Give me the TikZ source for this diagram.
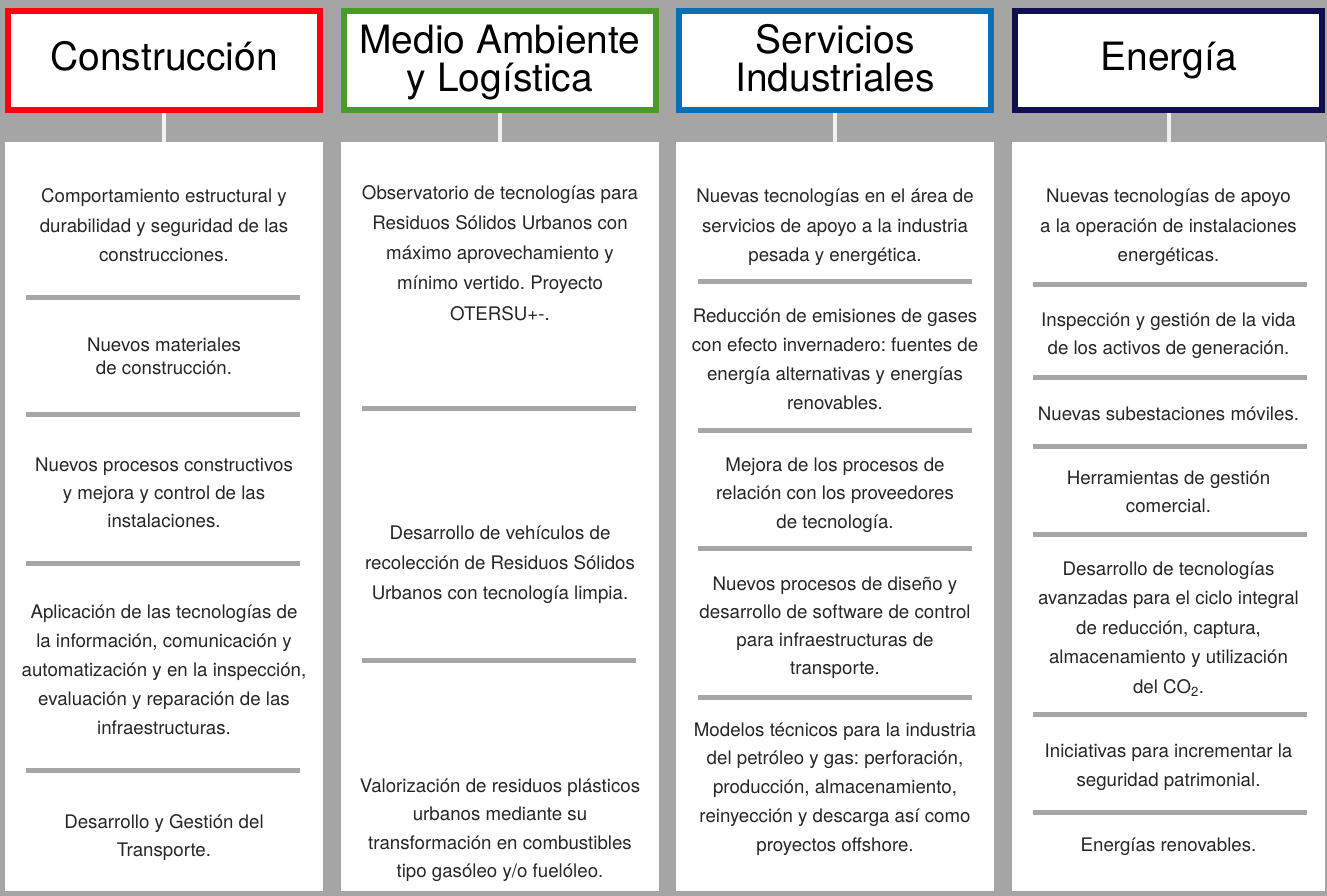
\documentclass[tikz,border=0pt]{standalone}
\usepackage{fontspec}
\setmainfont{TeX Gyre Heros}
\frenchspacing
\definecolor{bggray}{HTML}{A5A5A5}
\definecolor{sepgray}{HTML}{A6A6A6}
\definecolor{cred}{HTML}{FF0012}
\definecolor{cgreen}{HTML}{4C9A2A}
\definecolor{cblue}{HTML}{0A6FB5}
\definecolor{cnavy}{HTML}{120E52}
\newcommand\ml[1]{\vtop{\halign{\hfil##\hfil\cr#1\crcr}}}
\newcommand\bodyfont[1]{\fontsize{18.7}{#1}\selectfont}
\newcommand\sepat[2]{\draw[sepline] ({#1-137},#2) -- ({#1+137},#2);}
\tikzset{
  hdr/.style={draw, line width=6pt, fill=white, minimum width=#1, minimum height=99pt, inner sep=0pt, outer sep=0pt},
  colbox/.style={fill=white, minimum width=#1, minimum height=749pt, inner sep=0pt, outer sep=0pt},
  htxt/.style={font=\fontsize{39}{38}\selectfont, text=black, inner sep=0pt, anchor=base},
  txt/.style={font=\bodyfont{#1}, text=black!85, inner sep=0pt, anchor=base},
  txt/.default=29.3,
  conn/.style={draw=white!94!black, line width=4pt, shorten <=3pt},
  sepline/.style={draw=sepgray, line width=5pt}
}
\begin{document}
\begin{tikzpicture}[x=1pt,y=-1pt]
\useasboundingbox (0,0) rectangle (1327,896);
\fill[bggray] (0,0) rectangle (1327,896);
% columns
\node[colbox=318pt] (c1) at (164,516.5) {};
\node[colbox=318pt] (c2) at (500,516.5) {};
\node[colbox=318pt] (c3) at (835,516.5) {};
\node[colbox=313pt] (c4) at (1168.5,516.5) {};
% headers
\node[hdr=312pt, draw=cred] (h1) at (164,60.5) {};
\node[hdr=312pt, draw=cgreen] (h2) at (500,60.5) {};
\node[hdr=312pt, draw=cblue] (h3) at (835,60.5) {};
\node[hdr=307pt, draw=cnavy] (h4) at (1168.5,60.5) {};
\draw[conn] (h1.south) -- (c1.north);
\draw[conn] (h2.south) -- (c2.north);
\draw[conn] (h3.south) -- (c3.north);
\draw[conn] (h4.south) -- (c4.north);
\node[htxt] (t1) at (164,71) {Construcción};
\node[htxt] (t2) at (500,53.5) {\ml{Medio Ambiente\cr y Logística}};
\node[htxt] (t3) at (835,53.5) {\ml{Servicios\cr Industriales}};
\node[htxt] (t4) at (1168.5,71) {Energía};
% separators
\sepat{163}{297.5}\sepat{163}{414.5}\sepat{163}{563}\sepat{163}{770}
\sepat{499}{408}\sepat{499}{660}
\sepat{835}{281}\sepat{835}{430}\sepat{835}{548}\sepat{835}{697}
\sepat{1170}{284}\sepat{1170}{377}\sepat{1170}{446}\sepat{1170}{534}\sepat{1170}{714}\sepat{1170}{812}
% column 1
\node[txt] (b11) at (164,203) {\ml{Comportamiento estructural y\cr durabilidad y seguridad de las\cr construcciones.}};
\node[txt=23] (b12) at (164,351) {\ml{Nuevos materiales\cr de construcción.}};
\node[txt=28] (b13) at (164,471) {\ml{Nuevos procesos constructivos\cr y mejora y control de las\cr instalaciones.}};
\node[txt=29] (b14) at (164,618) {\ml{Aplicación de las tecnologías de\cr la información, comunicación y\cr automatización y en la inspección,\cr evaluación y reparación de las\cr infraestructuras.}};
\node[txt=28] (b15) at (164,828) {\ml{Desarrollo y Gestión del\cr Transporte.}};
% column 2
\node[txt=30] (b21) at (500,200) {\ml{Observatorio de tecnologías para\cr Residuos Sólidos Urbanos con\cr máximo aprovechamiento y\cr mínimo vertido. Proyecto\cr OTERSU+-.}};
\node[txt=30] (b22) at (500,539) {\ml{Desarrollo de vehículos de\cr recolección de Residuos Sólidos\cr Urbanos con tecnología limpia.}};
\node[txt=28.5] (b23) at (500,792) {\ml{Valorización de residuos plásticos\cr urbanos mediante su\cr transformación en combustibles\cr tipo gasóleo y/o fuelóleo.}};
% column 3
\node[txt] (b31) at (835,203) {\ml{Nuevas tecnologías en el área de\cr servicios de apoyo a la industria\cr pesada y energética.}};
\node[txt=29] (b32) at (835,322) {\ml{Reducción de emisiones de gases\cr con efecto invernadero: fuentes de\cr energía alternativas y energías\cr renovables.}};
\node[txt=28.5] (b33) at (835,471) {\ml{Mejora de los procesos de\cr relación con los proveedores\cr de tecnología.}};
\node[txt=28.3] (b34) at (835,590) {\ml{Nuevos procesos de diseño y\cr desarrollo de software de control\cr para infraestructuras de\cr transporte.}};
\node[txt=28.75] (b35) at (835,736) {\ml{Modelos técnicos para la industria\cr del petróleo y gas: perforación,\cr producción, almacenamiento,\cr reinyección y descarga así como\cr proyectos offshore.}};
% column 4
\node[txt] (b41) at (1168.5,203) {\ml{Nuevas tecnologías de apoyo\cr a la operación de instalaciones\cr energéticas.}};
\node[txt=28] (b42) at (1168.5,326) {\ml{Inspección y gestión de la vida\cr de los activos de generación.}};
\node[txt] (b43) at (1168.5,420) {Nuevas subestaciones móviles.};
\node[txt=28] (b44) at (1168.5,484) {\ml{Herramientas de gestión\cr comercial.}};
\node[txt=29.5] (b45) at (1168.5,575) {\ml{Desarrollo de tecnologías\cr avanzadas para el ciclo integral\cr de reducción, captura,\cr almacenamiento y utilización\cr del CO\textsubscript{2}.}};
\node[txt=29] (b46) at (1168.5,757) {\ml{Iniciativas para incrementar la\cr seguridad patrimonial.}};
\node[txt] (b47) at (1168.5,851) {Energías renovables.};
\end{tikzpicture}
\end{document}
